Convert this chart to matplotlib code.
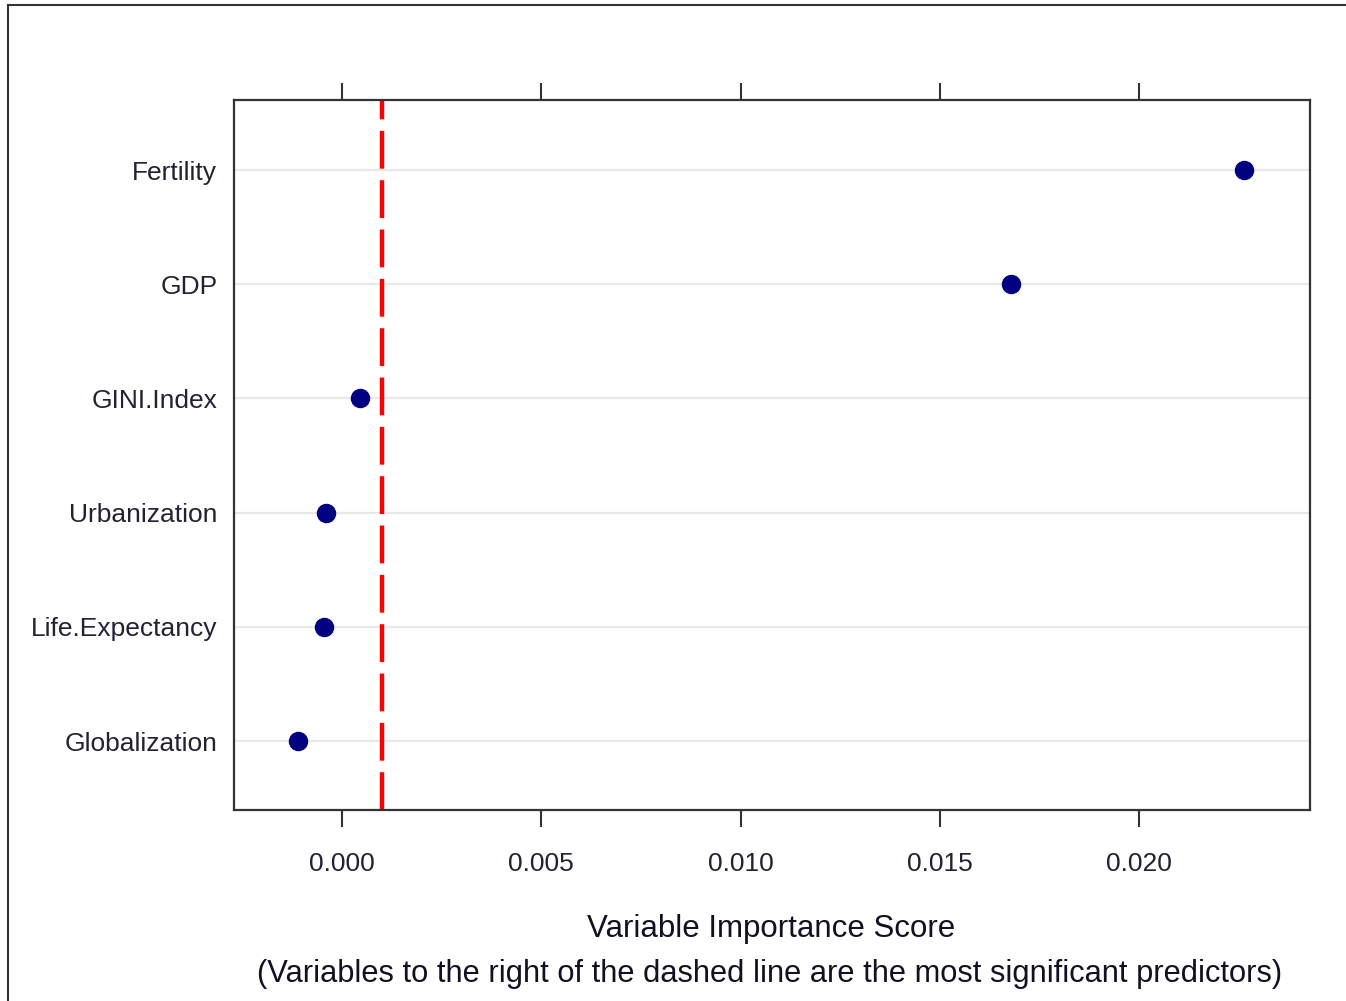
import numpy as np
import matplotlib
import matplotlib.pyplot as plt
from matplotlib.lines import Line2D

# data
variables = ['Globalization', 'Life.Expectancy', 'Urbanization', 'GINI.Index', 'GDP', 'Fertility']
importance = [-0.0011, -0.00045, -0.0004, 0.00045, 0.01678, 0.02263]
cutoff = 0.001
xticks = [0.000, 0.005, 0.010, 0.015, 0.020]
xticklabels = ['0.000', '0.005', '0.010', '0.015', '0.020']

# no narrow font installed -> Liberation Sans at a smaller size to keep the widths
plt.rcParams['font.family'] = ['Liberation Sans', 'DejaVu Sans']

fig = plt.figure(figsize=(13.46, 10.01), dpi=100)
ax = fig.add_axes([234/1346, 1 - 810/1001, (1310-234)/1346, (810-100)/1001])

ypos = np.arange(1, len(variables) + 1)
for y in ypos:
    ax.axhline(y, color='#e8e8e8', lw=1.6, zorder=1)

ax.axvline(cutoff, color='#ff0000', lw=3.2, dashes=(8.5, 2.6), zorder=2)
ax.plot(importance, ypos, 'o', color='#000080', markersize=13, zorder=3)

ax.set_xlim(-0.00271, 0.02429)
ax.set_ylim(0.396, 6.613)
ax.set_xticks(xticks)
ax.set_xticklabels(xticklabels)
ax.set_yticks(ypos)
ax.set_yticklabels(variables)

ax.tick_params(axis='x', which='both', top=True, bottom=True, direction='out',
               length=12, width=1.5, color='#333333', labelsize=19, pad=18, labelcolor='#222233')
ax.tick_params(axis='y', length=0, labelsize=19, pad=12, labelcolor='#222233')
for s in ax.spines.values():
    s.set_linewidth(1.6)
    s.set_color('#333333')

fig.text(771/1346, 1 - 929/1001, 'Variable Importance Score', ha='center', va='center',
         fontsize=22.5, color='#111122')
fig.text(770/1346, 1 - 974/1001,
         '(Variables to the right of the dashed line are the most significant predictors)',
         ha='center', va='center', fontsize=22.2, color='#111122')

# page frame
fig.add_artist(Line2D([8/1346, 8/1346], [0, 1 - 5/1001], transform=fig.transFigure, color='#333333', lw=1.5))
fig.add_artist(Line2D([8/1346, 1], [1 - 5/1001, 1 - 5/1001], transform=fig.transFigure, color='#333333', lw=1.5))

fig.savefig('out.png', dpi=100)
